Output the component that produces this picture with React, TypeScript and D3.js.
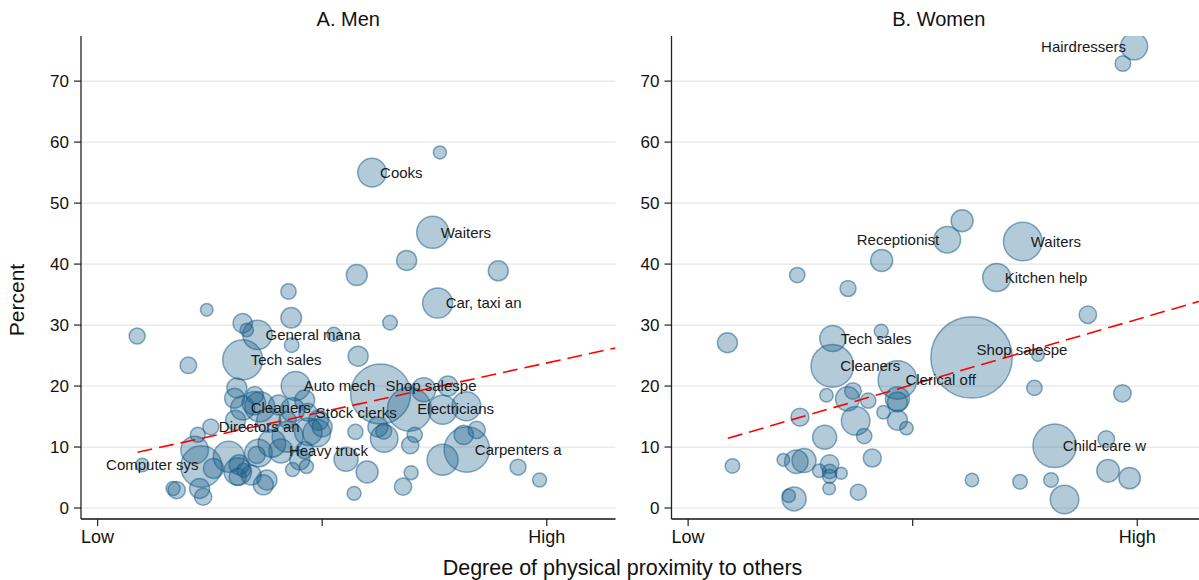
import React from "react";
import * as d3 from "d3";

// ---------- DATA ----------
const panelTitles = ["A. Men", "B. Women"];
const xTickValues = [0, 0.5, 1];
const xTickLabels = ["Low", "", "High"];
const yTickValues = [0, 10, 20, 30, 40, 50, 60, 70];
const xAxisTitle = "Degree of physical proximity to others";
const yAxisTitle = "Percent";

// Men: proximity score (0 = Low, 1 = High), percent, employment weight
const menX = [0.088, 0.243, 0.202, 0.323, 0.332, 0.356, 0.425, 0.431, 0.432, 0.526, 0.323, 0.310, 0.441, 0.580, 0.577, 0.688, 0.892, 0.651, 0.762, 0.611, 0.746, 0.757, 0.305, 0.323, 0.350, 0.361, 0.381, 0.307, 0.252, 0.223, 0.403, 0.423, 0.434, 0.461, 0.468, 0.492, 0.500, 0.469, 0.488, 0.423, 0.388, 0.408, 0.461, 0.450, 0.465, 0.434, 0.348, 0.216, 0.231, 0.258, 0.292, 0.312, 0.315, 0.312, 0.325, 0.354, 0.358, 0.342, 0.377, 0.369, 0.168, 0.176, 0.227, 0.235, 0.0996, 0.630, 0.694, 0.726, 0.780, 0.768, 0.821, 0.844, 0.815, 0.822, 0.768, 0.698, 0.680, 0.936, 0.984, 0.600, 0.553, 0.571, 0.638, 0.637, 0.624, 0.706, 0.696, 0.574];
const menY = [28.2, 32.5, 23.4, 30.3, 29.2, 28.4, 35.5, 31.2, 26.7, 28.5, 24.3, 19.7, 20.0, 24.9, 38.2, 40.6, 38.9, 30.4, 58.3, 55.0, 45.2, 33.6, 18.0, 16.4, 18.5, 16.6, 14.4, 14.4, 13.3, 12.0, 16.9, 14.4, 16.1, 17.7, 15.7, 14.4, 13.3, 12.5, 12.3, 11.7, 10.6, 9.35, 9.5, 7.9, 6.8, 6.3, 17.2, 9.5, 6.8, 6.5, 8.4, 6.0, 7.1, 5.1, 6.2, 8.7, 9.0, 5.4, 4.6, 3.8, 3.2, 2.95, 3.2, 1.85, 7.05, 18.7, 16.2, 19.4, 20.0, 16.1, 16.7, 12.8, 12.0, 9.6, 7.9, 5.8, 3.5, 6.7, 4.6, 5.9, 8.0, 2.4, 11.4, 12.6, 13.3, 12.0, 10.3, 12.5];
const menEmp = [64, 40, 69, 94, 45, 216, 59, 106, 53, 49, 400, 100, 210, 100, 110, 100, 100, 53, 42, 204, 256, 225, 100, 144, 74, 225, 144, 100, 64, 56, 100, 74, 144, 100, 81, 100, 100, 190, 190, 240, 190, 144, 74, 100, 49, 49, 137, 190, 428, 100, 240, 190, 100, 74, 49, 74, 190, 100, 100, 100, 49, 74, 100, 74, 45, 900, 484, 144, 100, 210, 210, 74, 94, 515, 240, 49, 74, 64, 49, 121, 144, 48, 190, 64, 100, 58, 74, 58];
const menLabels = [
  { i: 19, text: "Cooks", pos: 3 },
  { i: 20, text: "Waiters", pos: 3 },
  { i: 21, text: "Car, taxi an", pos: 3 },
  { i: 5, text: "General mana", pos: 3 },
  { i: 10, text: "Tech sales", pos: 3 },
  { i: 12, text: "Auto mech", pos: 3 },
  { i: 65, text: "Shop salespe", pos: 2 },
  { i: 23, text: "Cleaners", pos: 3 },
  { i: 34, text: "Stock clerks", pos: 3 },
  { i: 66, text: "Electricians", pos: 3 },
  { i: 28, text: "Directors an", pos: 3 },
  { i: 41, text: "Heavy truck", pos: 3 },
  { i: 73, text: "Carpenters a", pos: 3 },
  { i: 64, text: "Computer sys", pos: 0 },
];
const menFit = { intercept: 7.71, slope: 16.08, xStart: 0.0889 };

// Women
const womenX = [0.993, 0.968, 0.610, 0.577, 0.745, 0.431, 0.243, 0.356, 0.687, 0.0875, 0.430, 0.322, 0.321, 0.466, 0.308, 0.367, 0.355, 0.401, 0.466, 0.466, 0.435, 0.466, 0.486, 0.373, 0.392, 0.304, 0.249, 0.410, 0.0987, 0.212, 0.241, 0.258, 0.292, 0.315, 0.315, 0.315, 0.341, 0.314, 0.379, 0.236, 0.224, 0.890, 0.631, 0.779, 0.771, 0.967, 0.816, 0.931, 0.935, 0.983, 0.632, 0.739, 0.808, 0.838];
const womenY = [75.7, 72.9, 47.1, 44.0, 43.7, 40.6, 38.2, 36.0, 37.8, 27.1, 29.0, 27.8, 23.3, 21.0, 18.5, 19.2, 17.9, 17.6, 17.9, 17.4, 15.7, 14.4, 13.1, 14.3, 11.8, 11.6, 14.9, 8.2, 6.9, 7.9, 7.6, 7.8, 6.1, 7.2, 6.0, 5.2, 5.7, 3.2, 2.6, 1.5, 2.0, 31.7, 24.7, 25.1, 19.7, 18.8, 10.2, 11.3, 6.1, 4.9, 4.6, 4.3, 4.6, 1.4];
const womenEmp = [182, 61, 121, 177, 372, 121, 59, 64, 196, 100, 49, 169, 454, 372, 45, 69, 144, 59, 144, 100, 45, 100, 45, 204, 59, 144, 81, 81, 53, 40, 137, 144, 45, 86, 53, 49, 36, 40, 64, 144, 45, 76, 1656, 40, 59, 76, 471, 69, 128, 114, 45, 53, 53, 204];
const womenLabels = [
  { i: 0, text: "Hairdressers", pos: 9 },
  { i: 3, text: "Receptionist", pos: 9 },
  { i: 4, text: "Waiters", pos: 3 },
  { i: 8, text: "Kitchen help", pos: 3 },
  { i: 11, text: "Tech sales", pos: 3 },
  { i: 12, text: "Cleaners", pos: 3 },
  { i: 13, text: "Clerical off", pos: 3 },
  { i: 42, text: "Shop salespe", pos: 2 },
  { i: 46, text: "Child-care w", pos: 3 },
];
const womenFit = { intercept: 9.54, slope: 21.4, xStart: 0.0884 };

// ---------- LAYOUT ----------
const W = 1199;
const H = 580;
const FONT = "'Liberation Sans', Arial, Helvetica, sans-serif";
const PLOT_TOP = 36;
const PLOT_BOTTOM = 519;
const PLOT_W = 534.5;
const PANEL_LEFTS = [81, 671.5];
const X_DOMAIN: [number, number] = [-0.037, 1.153];
const Y_DOMAIN: [number, number] = [-1.8, 77.4];
const FILL = "#145a87";

type Lab = { i: number; text: string; pos: number };

function Panel(props: {
  left: number;
  title: string;
  xs: number[];
  ys: number[];
  emp: number[];
  labels: Lab[];
  fit: { intercept: number; slope: number; xStart: number };
}) {
  const { left, title, xs, ys, emp, labels, fit } = props;
  const x = d3.scaleLinear().domain(X_DOMAIN).range([left, left + PLOT_W]);
  const y = d3.scaleLinear().domain(Y_DOMAIN).range([PLOT_BOTTOM, PLOT_TOP]);
  const r = d3.scaleSqrt().domain([0, 100]).range([0, 10]);
  const fitPts: [number, number][] = [fit.xStart, X_DOMAIN[1]].map((v) => [v, fit.intercept + fit.slope * v]);
  const line = d3
    .line<[number, number]>()
    .x((d) => x(d[0]))
    .y((d) => y(d[1]));
  const clipId = "clip" + Math.round(left);
  return (
    <g>
      <defs>
        <clipPath id={clipId}>
          <rect x={left} y={PLOT_TOP} width={PLOT_W} height={PLOT_BOTTOM - PLOT_TOP} />
        </clipPath>
      </defs>
      {yTickValues.map((t) => (
        <line key={"g" + t} x1={left} x2={left + PLOT_W} y1={y(t)} y2={y(t)} stroke="#e6e6e6" strokeWidth={1.2} />
      ))}
      <text x={left + PLOT_W / 2} y={26} textAnchor="middle" fontSize={20} fontFamily={FONT} fill="#111">
        {title}
      </text>
      <g clipPath={`url(#${clipId})`}>
        {xs.map((v, i) => (
          <circle
            key={i}
            cx={x(v)}
            cy={y(ys[i])}
            r={r(emp[i])}
            fill={FILL}
            fillOpacity={0.32}
            stroke={FILL}
            strokeOpacity={0.5}
            strokeWidth={1.5}
          />
        ))}
        <path d={line(fitPts) || ""} fill="none" stroke="#ff0000" strokeWidth={1.6} strokeDasharray="15 7" />
      </g>
      {labels.map((l) => {
        const cx = x(xs[l.i]);
        const cy = y(ys[l.i]);
        let tx = cx + 8;
        let ty = cy;
        let anchor: "start" | "end" | "middle" = "start";
        if (l.pos === 9) {
          tx = cx - 8;
          anchor = "end";
        } else if (l.pos === 2) {
          tx = cx + 5;
          ty = cy - 8;
        } else if (l.pos === 0) {
          tx = cx + 10;
          anchor = "middle";
        }
        return (
          <text key={l.text} x={tx} y={ty} dy="0.35em" textAnchor={anchor} fontSize={15} fontFamily={FONT} fill="#1a1a1a">
            {l.text}
          </text>
        );
      })}
      <line x1={left} x2={left} y1={PLOT_TOP} y2={PLOT_BOTTOM} stroke="#222" strokeWidth={1.3} />
      {yTickValues.map((t) => (
        <g key={"yt" + t}>
          <line x1={left - 7} x2={left} y1={y(t)} y2={y(t)} stroke="#222" strokeWidth={1.2} />
          <text x={left - 12} y={y(t)} dy="0.35em" textAnchor="end" fontSize={17} fontFamily={FONT} fill="#111">
            {t}
          </text>
        </g>
      ))}
      <line x1={left} x2={left + PLOT_W} y1={PLOT_BOTTOM} y2={PLOT_BOTTOM} stroke="#111" strokeWidth={1.5} />
      {xTickValues.map((t, i) => (
        <g key={"xt" + t}>
          <line x1={x(t)} x2={x(t)} y1={PLOT_BOTTOM} y2={PLOT_BOTTOM + 7} stroke="#222" strokeWidth={1.2} />
          <text x={x(t)} y={542.7} textAnchor="middle" fontSize={18} fontFamily={FONT} fill="#111">
            {xTickLabels[i]}
          </text>
        </g>
      ))}
    </g>
  );
}

export default function App() {
  return (
    <svg
      width={W}
      height={H}
      viewBox={`0 0 ${W} ${H}`}
      style={{ position: "absolute", left: 0, top: 0, background: "#fff" }}
    >
      <rect x={0} y={0} width={W} height={H} fill="#fff" />
      <Panel left={PANEL_LEFTS[0]} title={panelTitles[0]} xs={menX} ys={menY} emp={menEmp} labels={menLabels} fit={menFit} />
      <Panel left={PANEL_LEFTS[1]} title={panelTitles[1]} xs={womenX} ys={womenY} emp={womenEmp} labels={womenLabels} fit={womenFit} />
      <text x={622.5} y={575} textAnchor="middle" fontSize={21.5} fontFamily={FONT} fill="#111">
        {xAxisTitle}
      </text>
      <text transform="translate(24,300) rotate(-90)" textAnchor="middle" fontSize={21} fontFamily={FONT} fill="#111">
        {yAxisTitle}
      </text>
    </svg>
  );
}
